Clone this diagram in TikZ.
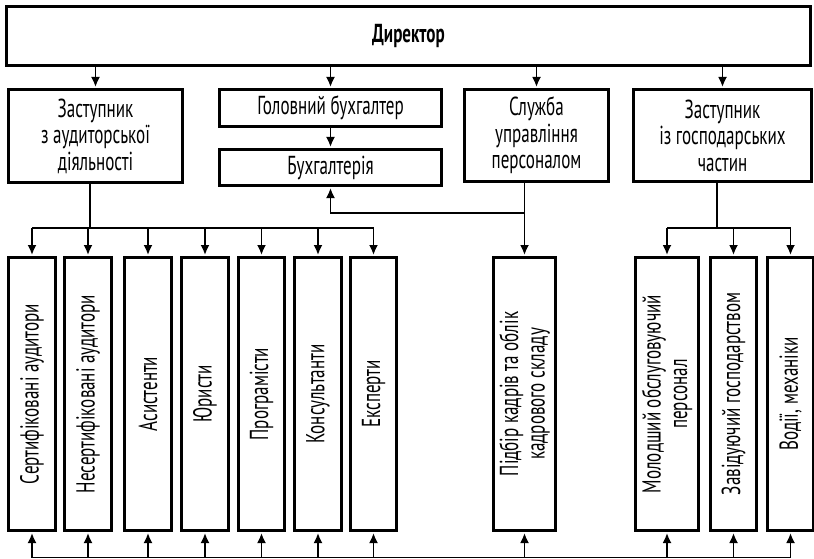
\documentclass[tikz,border=0pt]{standalone}
\usepackage{fontspec}
\setmainfont{PT Sans}[FakeStretch=0.655]
\usetikzlibrary{arrows.meta,calc}
\begin{document}
\begin{tikzpicture}[x=1pt,y=-1pt,
  box/.style={draw, line width=2.6pt, inner sep=0pt, align=center,
    font=\fontsize{26}{26.5}\selectfont},
  vbox/.style={box, rotate=90, minimum width=273.4pt},
  ln/.style={line width=1.8pt},
  arr/.style={ln, -{Latex[length=10pt,width=9pt]}, shorten >=1pt}]
\useasboundingbox (0,0) rectangle (814,559);
% top
\node[box, minimum width=804.4pt, minimum height=59.4pt, font=\fontsize{26}{26}\selectfont\bfseries] (dir) at (408.5,36) {Директор};
\node[box, minimum width=174.4pt, minimum height=93.4pt] (za) at (95.5,136) {Заступник\\з аудиторської\\діяльності};
\node[box, minimum width=222.4pt, minimum height=37.4pt] (hb) at (330.5,108) {Головний бухгалтер};
\node[box, minimum width=222.4pt, minimum height=36.4pt] (bu) at (330.5,167.5) {Бухгалтерія};
\node[box, minimum width=144.4pt, minimum height=92.4pt] (sl) at (536.5,135.5) {Служба\\управління\\персоналом};
\node[box, minimum width=178.4pt, minimum height=92.4pt] (zh) at (722.5,135.5) {Заступник\\із господарських\\частин};
% bottom
\node[vbox, minimum height=47.4pt] (b1) at (32,394) {Сертифіковані аудитори};
\node[vbox, minimum height=47.4pt] (b2) at (88,394) {Несертифіковані аудитори};
\node[vbox, minimum height=47.4pt] (b3) at (148,394) {Асистенти};
\node[vbox, minimum height=47.4pt] (b4) at (205,394) {Юристи};
\node[vbox, minimum height=46.4pt] (b5) at (261.5,394) {Програмісти};
\node[vbox, minimum height=47.4pt] (b6) at (318,394) {Консультанти};
\node[vbox, minimum height=46.4pt] (b7) at (373.5,394) {Експерти};
\node[vbox, minimum height=62.4pt] (pid) at (524.5,394) {Підбір кадрів та облік\\кадрового складу};
\node[vbox, minimum height=63.4pt] (mo) at (667,394) {Молодший обслуговуючий\\персонал};
\node[vbox, minimum height=46.4pt] (zv) at (733.5,394) {Завідуючий господарством};
\node[vbox, minimum height=46.4pt] (vo) at (790.5,394) {Водії, механіки};
% director arrows
\foreach \n in {za,hb,sl,zh} \draw[arr] (\n.north |- dir.south) -- (\n.north);
\draw[arr] (hb.south) -- (bu.north);
% audit branch
\draw[ln] ([xshift=-5.5pt]za.south) -- ++(0,44) coordinate (zaj);
\draw[ln] (b1.east |- zaj) -- (b7.east |- zaj);
\foreach \n in {b1,b2,b3,b4,b5,b6,b7} \draw[arr] (\n.east |- zaj) -- (\n.east);
% personnel
\draw[arr] (pid.east |- sl.south) -- (pid.east);
\coordinate (slj) at ($(pid.east |- sl.south)+(0,30)$);
\draw[arr] (slj) -| (bu.south);
% household
\draw[ln] ([xshift=-5.5pt]zh.south) -- ++(0,45) coordinate (zhj);
\draw[ln] (mo.east |- zhj) -- (vo.east |- zhj);
\foreach \n in {mo,zv,vo} \draw[arr] (\n.east |- zhj) -- (\n.east);
% bottom feedback line
\coordinate (bl) at (0,557.5);
\draw[ln] (b1.west |- bl) -- (vo.west |- bl);
\foreach \n in {b1,b2,b3,b4,b5,b6,b7,pid,mo,zv,vo} \draw[arr] (\n.west |- bl) -- (\n.west);
\end{tikzpicture}
\end{document}
